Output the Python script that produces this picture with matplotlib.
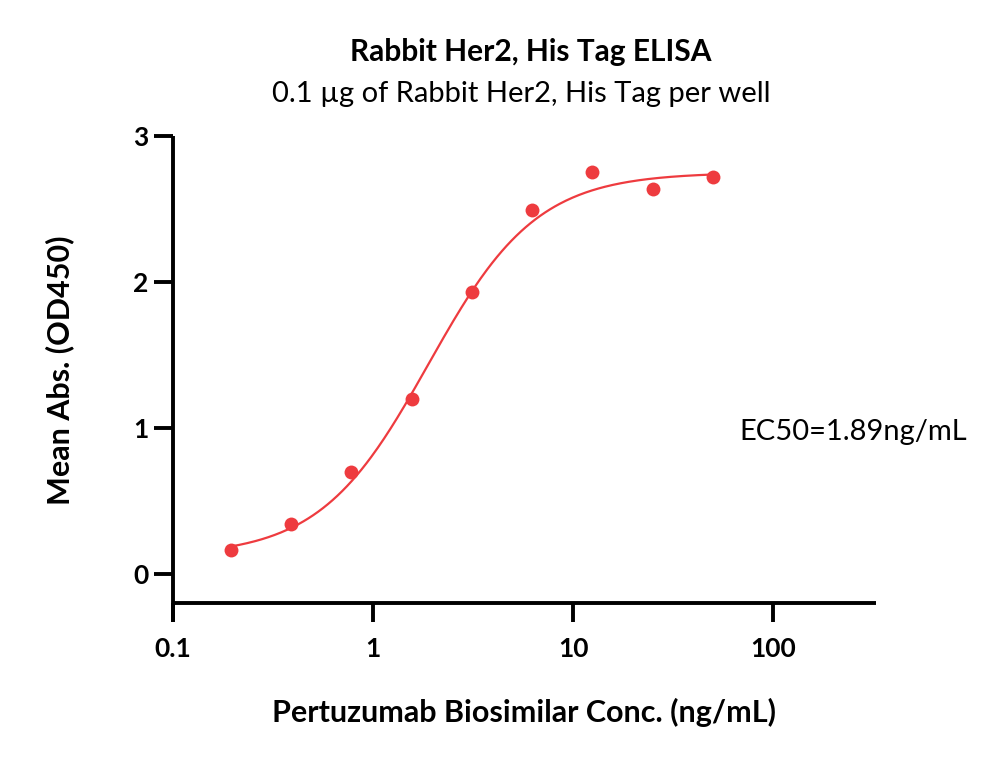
import numpy as np
import matplotlib
matplotlib.use("Agg")
import matplotlib.pyplot as plt

# Data
conc = [0.195, 0.39, 0.78, 1.56, 3.125, 6.25, 12.5, 25, 50]
od450 = [0.16, 0.34, 0.70, 1.20, 1.93, 2.49, 2.75, 2.64, 2.72]

# 4PL fit parameters (EC50 from chart)
fit_bottom = 0.12
fit_top = 2.75
fit_ec50 = 1.89
fit_hill = 1.6

title = "Rabbit Her2, His Tag ELISA"
subtitle = "0.1 µg of Rabbit Her2, His Tag per well"
xlabel = "Pertuzumab Biosimilar Conc. (ng/mL)"
ylabel = "Mean Abs. (OD450)"
ec50_text = "EC50=1.89ng/mL"
xticks = [0.1, 1, 10, 100]
xticklabels = ["0.1", "1", "10", "100"]
yticks = [0, 1, 2, 3]

red = "#EE3B3F"
font = ["Lato", "DejaVu Sans"]
plt.rcParams["font.family"] = font

fig = plt.figure(figsize=(10, 7.63), dpi=100)
ax = fig.add_axes([0.173, 1 - 622 / 763, 0.876 - 0.173, (622 - 136) / 763])

xs = np.logspace(np.log10(conc[0]), np.log10(conc[-1]), 300)
ys = fit_bottom + (fit_top - fit_bottom) / (1 + (fit_ec50 / xs) ** fit_hill)
ax.plot(xs, ys, color=red, lw=1.6, zorder=2)
ax.plot(conc, od450, "o", color=red, ms=10, mec="none", zorder=3)

ax.set_xscale("log")
ax.set_xlim(0.1, 10 ** (np.log10(0.1) + 703 / 200))
ax.set_ylim(-0.33, 3.0)

for s in ["top", "right"]:
    ax.spines[s].set_visible(False)
ax.spines["bottom"].set_position(("data", -0.2))
ax.spines["left"].set_bounds(-0.33, 3.0)
for s in ["left", "bottom"]:
    ax.spines[s].set_linewidth(2.8)
    ax.spines[s].set_capstyle("butt")

ax.set_xticks(xticks)
ax.set_xticklabels(xticklabels)
ax.xaxis.set_minor_locator(matplotlib.ticker.NullLocator())
ax.set_yticks(yticks)
ax.tick_params(axis="both", which="major", length=13.5, width=2.8, direction="out",
               labelsize=19, pad=11)
ax.tick_params(axis="y", pad=4)
for lab in ax.get_xticklabels() + ax.get_yticklabels():
    lab.set_fontweight("bold")

fig.text(0.5245, 1 - 712 / 763, xlabel, ha="center", va="center", fontsize=22, fontweight="bold")
fig.text(0.060, 1 - 370 / 763, ylabel, ha="center", va="center", fontsize=22,
         fontweight="bold", rotation=90)

fig.text(0.5305, 1 - 52 / 763, title, ha="center", va="center", fontsize=21.5, fontweight="bold")
fig.text(0.5215, 1 - 94 / 763, subtitle, ha="center", va="center", fontsize=21)
fig.text(0.853, 1 - 432 / 763, ec50_text, ha="center", va="center", fontsize=21)

fig.savefig("out.png", dpi=100)
